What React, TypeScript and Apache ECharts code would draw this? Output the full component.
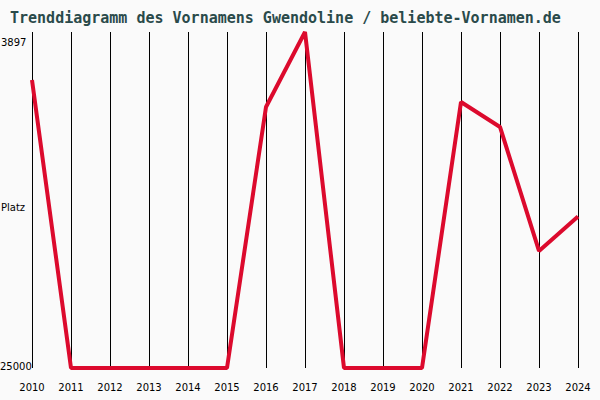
import React, { useEffect, useRef } from "react";
import * as echarts from "echarts";

const years = ["2010","2011","2012","2013","2014","2015","2016","2017","2018","2019","2020","2021","2022","2023","2024"];
const ranks = [6910, 25000, 25000, 25000, 25000, 25000, 8610, 3897, 25000, 25000, 25000, 8290, 9860, 17650, 15480];
const yMin = 3897;
const yMax = 25000;
const yLabelTop = "3897";
const yLabelMid = "Platz";
const yLabelBottom = "25000";
const titleText = "Trenddiagramm des Vornamens Gwendoline / beliebte-Vornamen.de";

export default function App() {
  const ref = useRef<HTMLDivElement>(null);
  useEffect(() => {
    if (!ref.current) return;
    const chart = echarts.init(ref.current, undefined, { renderer: "svg" });
    const gridTop = 32, gridBottom = 32, gridLeft = 32, gridRight = 22;
    const lblFont = "10px 'DejaVu Sans'";
    chart.setOption({
      animation: false,
      backgroundColor: "#fafafa",
      title: {
        text: titleText,
        left: 5,
        top: 5,
        textStyle: { fontFamily: "DejaVu Sans Mono", fontSize: 15, fontWeight: "bold", color: "#2a4a4a" },
      },
      grid: { left: gridLeft, right: gridRight, top: gridTop, bottom: gridBottom, containLabel: false },
      xAxis: {
        type: "category",
        data: years,
        boundaryGap: false,
        axisLine: { show: false },
        axisTick: { show: false },
        axisLabel: { margin: 14, fontFamily: "DejaVu Sans", fontSize: 10, color: "#000", interval: 0 },
        splitLine: { show: true, lineStyle: { color: "#000", width: 1 } },
      },
      yAxis: {
        type: "value",
        inverse: true,
        min: yMin,
        max: yMax,
        axisLine: { show: false },
        axisTick: { show: false },
        axisLabel: { show: false },
        splitLine: { show: false },
      },
      graphic: [
        { type: "text", left: 1, top: 37, style: { text: yLabelTop, font: lblFont, fill: "#000" } },
        { type: "text", left: 1, top: 202, style: { text: yLabelMid, font: lblFont, fill: "#000" } },
        { type: "text", left: 0, top: 361, style: { text: yLabelBottom, font: lblFont, fill: "#000" } },
      ],
      series: [
        {
          type: "line",
          data: ranks,
          symbol: "none",
          lineStyle: { color: "#dc0a2d", width: 4 },
        },
      ],
    });
    return () => chart.dispose();
  }, []);
  return <div ref={ref} style={{ position: "fixed", left: 0, top: 0, width: 600, height: 400 }} />;
}
